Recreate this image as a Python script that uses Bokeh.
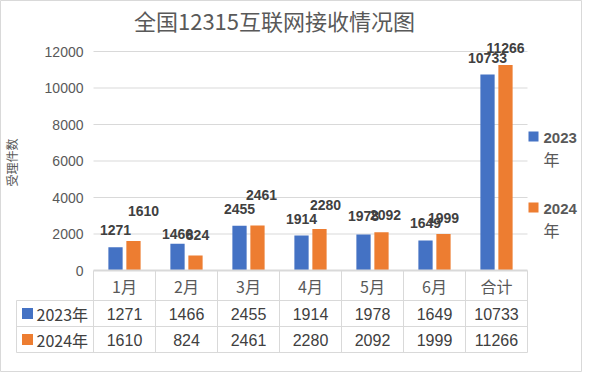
import numpy as np
from bokeh.plotting import figure
from bokeh.models import Range1d
from bokeh.core.properties import value
from bokeh.embed import file_html
from bokeh.resources import INLINE

# ---------------- data ----------------
chart_title = "全国12315互联网接收情况图"
categories = ["1月", "2月", "3月", "4月", "5月", "6月", "合计"]
series_names = ["2023年", "2024年"]
values_2023 = [1271, 1466, 2455, 1914, 1978, 1649, 10733]
values_2024 = [1610, 824, 2461, 2280, 2092, 1999, 11266]
y_ticks = [0, 2000, 4000, 6000, 8000, 10000, 12000]
y_title = "受理件数"
legend_top = ["2023", "2024"]

# label nudges in px (Excel placed some labels out of the default spot)
nudge_dx_2023 = [0, 0, 0, 0, 0, 0, 0]
nudge_dy_2023 = [-17, -10, -17, -17, -18, -17, -17]
nudge_dx_2024 = [10, 2, 4, 6, 4, 0, 0]
nudge_dy_2024 = [-30, -20, -31, -24, -17, -16, -17]

# ---------------- layout helpers ----------------
W, H = 582, 372
LEFT = 93          # px of category axis start
CAT = 62           # px per category
BASE = 270         # px of y = 0
K = 219 / 12000    # px per unit


def xd(px):
    return (px - LEFT) / CAT


def yd(px):
    return (BASE - px) / K


BLUE = "#4472C4"
ORANGE = "#ED7D31"
GRID = "#d9d9d9"
AX_TXT = "#595959"
LBL_TXT = "#404040"
CJK = value("Noto Sans CJK SC")
LAT = value("Liberation Sans")

p = figure(width=W, height=H, output_backend="svg", toolbar_location=None,
           x_range=Range1d(xd(0), xd(W)), y_range=Range1d(yd(H), yd(0)),
           x_axis_location=None, y_axis_location=None, tools="")
p.min_border = 0
p.xgrid.visible = False
p.ygrid.visible = False
p.outline_line_color = GRID
p.outline_line_width = 1
p.background_fill_color = "white"
p.border_fill_color = "white"

n = len(categories)
xc = np.arange(n) + 0.5

# gridlines
gy = y_ticks[1:]
p.segment(x0=[0] * len(gy), x1=[n] * len(gy), y0=gy, y1=gy, line_color=GRID, line_width=1)

# bars
p.vbar(x=xc - 0.145, top=values_2023, width=0.23, bottom=0, fill_color=BLUE, line_color=None)
p.vbar(x=xc + 0.145, top=values_2024, width=0.23, bottom=0, fill_color=ORANGE, line_color=None)

# base line / table
p.segment(x0=[0], x1=[n], y0=[0], y1=[0], line_color=GRID, line_width=2)
row_lines = [yd(v) for v in (300, 326, 352)]
p.segment(x0=[xd(16)] * 3, x1=[n] * 3, y0=row_lines, y1=row_lines, line_color=GRID, line_width=1)
bx = list(range(n + 1))
p.segment(x0=bx, x1=bx, y0=[0] * len(bx), y1=[yd(352)] * len(bx), line_color=GRID, line_width=1)
p.segment(x0=[xd(16)], x1=[xd(16)], y0=[yd(300)], y1=[yd(352)], line_color=GRID, line_width=1)

# y tick labels
p.text(x=[xd(83)] * len(y_ticks), y=y_ticks, text=[str(t) for t in y_ticks], text_align="right",
       text_baseline="middle", text_font=LAT, text_font_size="14px", text_color=AX_TXT)

# y title
p.text(x=[xd(11)], y=[yd(162)], text=[y_title], angle=np.pi / 2, text_align="center",
       text_baseline="middle", text_font=CJK, text_font_size="12px", text_color=AX_TXT)

# title
p.text(x=[xd(274)], y=[yd(19)], text=[chart_title], text_align="center", text_baseline="middle",
       text_font=CJK, text_font_size="22px", text_color=AX_TXT)

# data labels
p.text(x=xc - 0.145, y=values_2023, text=[str(v) for v in values_2023],
       x_offset=nudge_dx_2023, y_offset=nudge_dy_2023, text_align="center", text_baseline="middle",
       text_font=LAT, text_font_style="bold", text_font_size="14px", text_color=LBL_TXT)
p.text(x=xc + 0.145, y=values_2024, text=[str(v) for v in values_2024],
       x_offset=nudge_dx_2024, y_offset=nudge_dy_2024, text_align="center", text_baseline="middle",
       text_font=LAT, text_font_style="bold", text_font_size="14px", text_color=LBL_TXT)

# table content
p.text(x=xc, y=[yd(285)] * n, text=categories, text_align="center", text_baseline="middle",
       text_font=CJK, text_font_size="16px", text_color=AX_TXT)
p.text(x=xc, y=[yd(313)] * n, text=[str(v) for v in values_2023], text_align="center", text_baseline="middle",
       text_font=LAT, text_font_size="16px", text_color=LBL_TXT)
p.text(x=xc, y=[yd(339)] * n, text=[str(v) for v in values_2024], text_align="center", text_baseline="middle",
       text_font=LAT, text_font_size="16px", text_color=LBL_TXT)
p.scatter(x=[xd(27)] * 2, y=[yd(313), yd(339)], marker="square", size=11,
          fill_color=[BLUE, ORANGE], line_color=None)
p.text(x=[xd(36)] * 2, y=[yd(313), yd(339)], text=series_names, text_align="left", text_baseline="middle",
       text_font=CJK, text_font_size="16px", text_color=LBL_TXT)

# right legend
p.scatter(x=[xd(533)] * 2, y=[yd(136), yd(207)], marker="square", size=10,
          fill_color=[BLUE, ORANGE], line_color=None)
p.text(x=[xd(543)] * 2, y=[yd(137), yd(208)], text=legend_top, text_align="left", text_baseline="middle",
       text_font=LAT, text_font_style="bold", text_font_size="15px", text_color=AX_TXT)
p.text(x=[xd(543)] * 2, y=[yd(158), yd(229)], text=["年", "年"], text_align="left", text_baseline="middle",
       text_font=CJK, text_font_size="16px", text_color=AX_TXT)

open("out.html", "w").write(file_html(p, INLINE))
